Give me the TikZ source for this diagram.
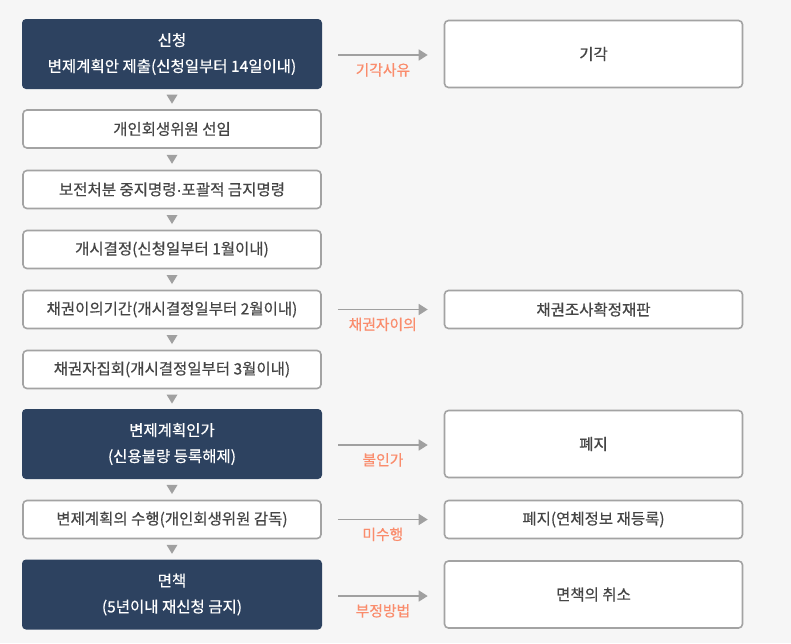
\documentclass[tikz,border=0pt]{standalone}
\usepackage{fontspec}
\setmainfont{Noto Sans CJK KR}
\newfontfamily\boxfont{Noto Sans CJK KR}[FakeBold=0.5]
\newfontfamily\dotfont{Liberation Sans}[FakeBold=0.5]
\usepackage{xcolor}
\usetikzlibrary{calc,arrows.meta}

\definecolor{pagebg}{HTML}{F6F6F6}
\definecolor{navy}{HTML}{2D4260}
\definecolor{boxline}{HTML}{A3A3A3}
\definecolor{boxtext}{HTML}{454545}
\definecolor{arrowgray}{HTML}{A0A0A0}
\definecolor{salmon}{HTML}{FA8C6C}

\begin{document}
\begin{tikzpicture}
    [x=1pt,y=-1pt,
     darkbox/.style={fill=navy,rounded corners=4pt,text=white,align=center,
       minimum width=300pt,minimum height=70pt,inner sep=0pt,
       font=\boxfont\fontsize{15.5}{26}\selectfont},
     lightbox/.style={fill=white,draw=boxline,line width=1.6pt,rounded corners=4pt,
       text=boxtext,align=center,minimum width=298pt,minimum height=38pt,inner sep=0pt,
       font=\boxfont\fontsize{15.5}{26}\selectfont},
     tallbox/.style={lightbox,minimum height=67pt},
     sidearrow/.style={draw=arrowgray,line width=1.6pt,
       -{Triangle[length=9pt,width=11pt]}},
     reason/.style={text=salmon,font=\boxfont\fontsize{14.8}{16}\selectfont,below=4pt},
     tri/.style={fill=arrowgray}]

    % background
    \fill[pagebg] (0,0) rectangle (791,643);

    % main flow
    \node[darkbox]  (apply)    at (172, 54.0) {신청\\변제계획안 제출(신청일부터 14일이내)};
    \node[lightbox] (trustee)  at (172,129.0) {개인회생위원 선임};
    \node[lightbox] (preserve) at (172,189.5) {보전처분 중지명령{\dotfont ·}포괄적 금지명령};
    \node[lightbox] (commence) at (172,249.5) {개시결정(신청일부터 1월이내)};
    \node[lightbox] (objection) at (172,309.5) {채권이의기간(개시결정일부터 2월이내)};
    \node[lightbox] (meeting)  at (172,369.5) {채권자집회(개시결정일부터 3월이내)};
    \node[darkbox]  (approve)  at (172,444.0) {변제계획인가\\(신용불량 등록해제)};
    \node[lightbox] (perform)  at (172,519.5) {변제계획의 수행(개인회생위원 감독)};
    \node[darkbox]  (discharge) at (172,594.5) {면책\\(5년이내 재신청 금지)};

    % outcomes
    \node[tallbox]  (dismiss)  at (593.5, 54.0) {기각};
    \node[lightbox] (review)   at (593.5,309.5) {채권조사확정재판};
    \node[tallbox]  (abolish)  at (593.5,444.0) {폐지};
    \node[lightbox] (reabolish) at (593.5,519.5) {폐지(연체정보 재등록)};
    \node[tallbox]  (revoke)   at (593.5,594.5) {면책의 취소};

    % down triangles
    \foreach \a/\b in {apply/trustee,trustee/preserve,preserve/commence,
                       commence/objection,objection/meeting,meeting/approve,
                       approve/perform,perform/discharge}
      \fill[tri] ($(\a.south)!0.5!(\b.north)$) +(-5.5,-4.5) -- +(5.5,-4.5) -- +(0,4.5) -- cycle;

    % side branches
    \draw[sidearrow] ([xshift=16pt,yshift=-1pt]apply.east) -- ([xshift=-16pt,yshift=-1pt]dismiss.west)
      node[midway,reason] {기각사유};
    \draw[sidearrow] ([xshift=16pt]objection.east) -- ([xshift=-16pt]review.west)
      node[midway,reason] {채권자이의};
    \draw[sidearrow] ([xshift=16pt,yshift=-1pt]approve.east) -- ([xshift=-16pt,yshift=-1pt]abolish.west)
      node[midway,reason] {불인가};
    \draw[sidearrow] ([xshift=16pt]perform.east) -- ([xshift=-16pt]reabolish.west)
      node[midway,reason] {미수행};
    \draw[sidearrow] ([xshift=16pt,yshift=-1.5pt]discharge.east) -- ([xshift=-16pt,yshift=-1.5pt]revoke.west)
      node[midway,reason] {부정방법};
  \end{tikzpicture}
\end{document}
